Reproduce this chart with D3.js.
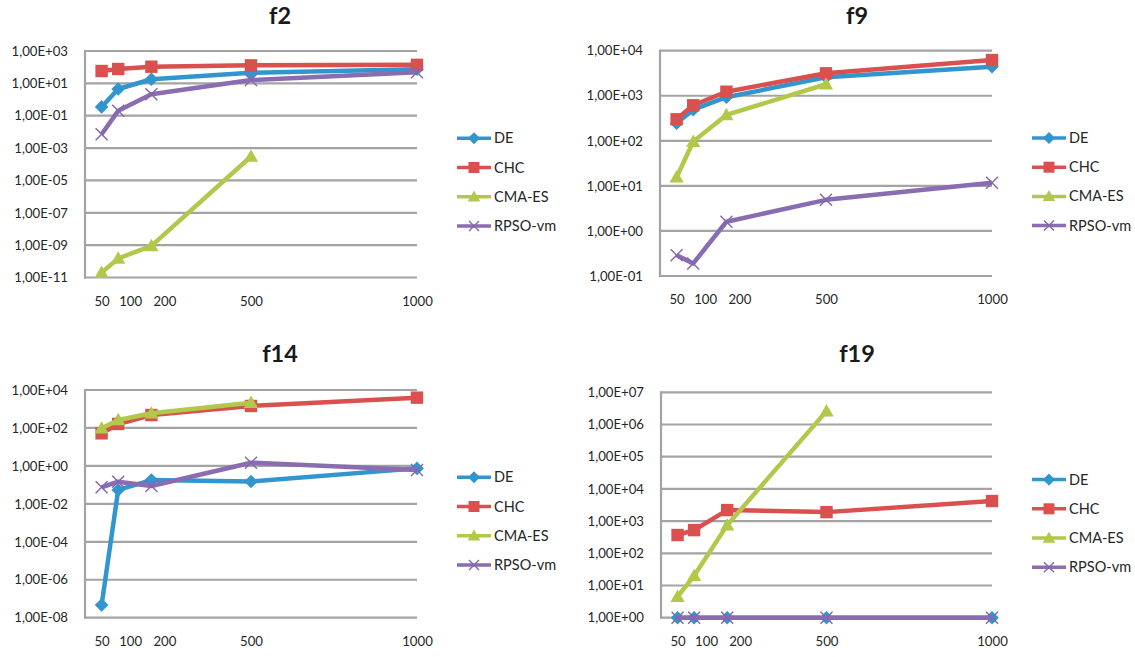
<!DOCTYPE html>
<html>
<head>
<meta charset="utf-8">
<script src="https://cdn.jsdelivr.net/npm/d3@7"></script>
<style>
  html, body { margin: 0; padding: 0; background: #fff; }
  svg { display: block; }
</style>
</head>
<body>
<script>
// Problem dimensions (x axis)
const dims = [50, 100, 200, 500, 1000];
const dimLabels = ["50", "100", "200", "500", "1000"];
const seriesNames = ["DE", "CHC", "CMA-ES", "RPSO-vm"];

// f2 results
const f2_DE   = [0.35, 4.5, 18, 45, 74];
const f2_CHC  = [58, 77, 107, 130, 140];
const f2_CMA  = [2e-11, 1.5e-10, 9e-10, 3e-4, null];
const f2_RPSO = [7.2e-3, 0.2, 2.1, 16, 48];

// f9 results
const f9_DE   = [245, 490, 930, 2570, 4400];
const f9_CHC  = [300, 615, 1230, 3150, 6200];
const f9_CMA  = [15.6, 96, 375, 1800, null];
const f9_RPSO = [0.29, 0.19, 1.6, 4.9, 11.8];

// f14 results
const f14_DE   = [4.7e-8, 0.054, 0.18, 0.15, 0.74];
const f14_CHC  = [52, 162, 480, 1440, 3950];
const f14_CMA  = [96, 263, 590, 2150, null];
const f14_RPSO = [0.074, 0.147, 0.087, 1.47, 0.6];

// f19 results
const f19_DE   = [1, 1, 1, 1, 1];
const f19_CHC  = [370, 525, 2200, 1900, 4200];
const f19_CMA  = [4.5, 20, 750, 2.6e6, null];
const f19_RPSO = [1, 1, 1, 1, 1];

// ---- styling / layout ----
const colors = ["#3195d0", "#d9504e", "#b2c84b", "#8a6cb0"];
const markerKinds = ["diamond", "square", "triangle", "x"];
const labelNudge = [0, 12, 13, 0, 0];
const FONT = "Lato, 'Open Sans', sans-serif";

const panels = [
  { title: "f2",  series: [f2_DE, f2_CHC, f2_CMA, f2_RPSO],     lo: -11, hi: 3, step: 2,
    left: 85,  right: 417, top: 51,   bottom: 277.5, titleX: 280, titleY: 24 },
  { title: "f9",  series: [f9_DE, f9_CHC, f9_CMA, f9_RPSO],     lo: -1,  hi: 4, step: 1,
    left: 660, right: 992, top: 50.7, bottom: 276,   titleX: 857, titleY: 24 },
  { title: "f14", series: [f14_DE, f14_CHC, f14_CMA, f14_RPSO], lo: -8,  hi: 4, step: 2,
    left: 85,  right: 417, top: 390,  bottom: 617.7, titleX: 280, titleY: 362 },
  { title: "f19", series: [f19_DE, f19_CHC, f19_CMA, f19_RPSO], lo: 0,   hi: 7, step: 1,
    left: 661, right: 992, top: 392.3, bottom: 617.7, titleX: 857, titleY: 362 }
];

function sciLabel(v) {
  const e = Math.round(Math.log10(v));
  const a = Math.abs(e);
  return "1,00E" + (e < 0 ? "-" : "+") + (a < 10 ? "0" + a : String(a));
}

function markerPath(kind, s) {
  switch (kind) {
    case "diamond":  return `M0,${-s * 1.1}L${s * 1.1},0L0,${s * 1.1}L${-s * 1.1},0Z`;
    case "square":   return `M${-s},${-s}H${s}V${s}H${-s}Z`;
    case "triangle": return `M0,${-s * 1.15}L${s * 1.15},${s * 0.85}L${-s * 1.15},${s * 0.85}Z`;
    default:         return `M${-s},${-s}L${s},${s}M${-s},${s}L${s},${-s}`;
  }
}

function drawMarker(sel, kind, color, s) {
  if (kind === "x") {
    sel.append("path").attr("d", markerPath(kind, s))
      .attr("fill", "none").attr("stroke", color).attr("stroke-width", 1.4);
  } else {
    sel.append("path").attr("d", markerPath(kind, s)).attr("fill", color);
  }
}

const svg = d3.select("body").append("svg")
  .attr("width", 1135).attr("height", 657);

panels.forEach(p => {
  const g = svg.append("g");
  const x = d3.scaleLinear().domain([0, 1000]).range([p.left, p.right]);
  const y = d3.scaleLog().domain([Math.pow(10, p.lo), Math.pow(10, p.hi)]).range([p.bottom, p.top]);
  const ticks = d3.range(p.lo, p.hi + 1, p.step).map(e => Math.pow(10, e));

  // title
  g.append("text")
    .attr("x", p.titleX).attr("y", p.titleY)
    .attr("text-anchor", "middle")
    .attr("font-family", FONT).attr("font-weight", "bold").attr("font-size", 23.5)
    .attr("fill", "#1a1a1a")
    .text(p.title);

  // horizontal gridlines
  g.append("g").selectAll("line").data(ticks).join("line")
    .attr("x1", p.left).attr("x2", p.right)
    .attr("y1", d => y(d)).attr("y2", d => y(d))
    .attr("stroke", "#a3a3a3").attr("stroke-width", 2.2);

  // vertical axis line
  g.append("line")
    .attr("x1", p.left).attr("x2", p.left)
    .attr("y1", p.top - 1.1).attr("y2", p.bottom + 1.1)
    .attr("stroke", "#a3a3a3").attr("stroke-width", 2.2);

  // y axis labels
  const yAxis = g.append("g")
    .attr("transform", `translate(${p.left},0)`)
    .call(d3.axisLeft(y).tickValues(ticks).tickFormat(sciLabel).tickSize(0).tickPadding(17));
  yAxis.select(".domain").remove();
  yAxis.selectAll("text")
    .attr("font-family", FONT).attr("font-size", 13.2).attr("fill", "#262626");

  // x axis labels
  const xAxis = g.append("g")
    .attr("transform", `translate(0,${p.bottom})`)
    .call(d3.axisBottom(x).tickValues(dims).tickFormat((d, i) => dimLabels[i]).tickSize(0).tickPadding(19));
  xAxis.select(".domain").remove();
  xAxis.selectAll("text")
    .attr("font-family", FONT).attr("font-size", 13.2).attr("fill", "#262626")
    .attr("dx", (d, i) => labelNudge[i]);

  // series lines and markers
  const line = d3.line()
    .defined(d => d.v != null)
    .x(d => x(d.x)).y(d => y(d.v));

  p.series.forEach((vals, si) => {
    const pts = dims.map((d, i) => ({ x: d, v: vals[i] }));
    g.append("path")
      .datum(pts)
      .attr("d", line)
      .attr("fill", "none")
      .attr("stroke", colors[si])
      .attr("stroke-width", 4.5)
      .attr("stroke-linejoin", "round");
    pts.filter(d => d.v != null).forEach(d => {
      const m = g.append("g").attr("transform", `translate(${x(d.x)},${y(d.v)})`);
      drawMarker(m, markerKinds[si], si === 3 ? "#8466b0" : colors[si], si === 3 ? 6 : 6.2);
    });
  });

  // legend
  const lx = p.right + 40;
  const ly = p.top + 87.3;
  seriesNames.forEach((name, si) => {
    const row = g.append("g").attr("transform", `translate(${lx},${ly + si * 29.2})`);
    row.append("line")
      .attr("x1", 0).attr("x2", 34).attr("y1", 0).attr("y2", 0)
      .attr("stroke", colors[si]).attr("stroke-width", 3.5);
    const m = row.append("g").attr("transform", "translate(17,0)");
    drawMarker(m, markerKinds[si], si === 3 ? "#8466b0" : colors[si], si === 3 ? 5 : 5.5);
    row.append("text")
      .attr("x", 37).attr("y", 0).attr("dy", "0.35em")
      .attr("font-family", FONT).attr("font-size", 14.5).attr("fill", "#262626")
      .text(name);
  });
});
</script>
</body>
</html>
